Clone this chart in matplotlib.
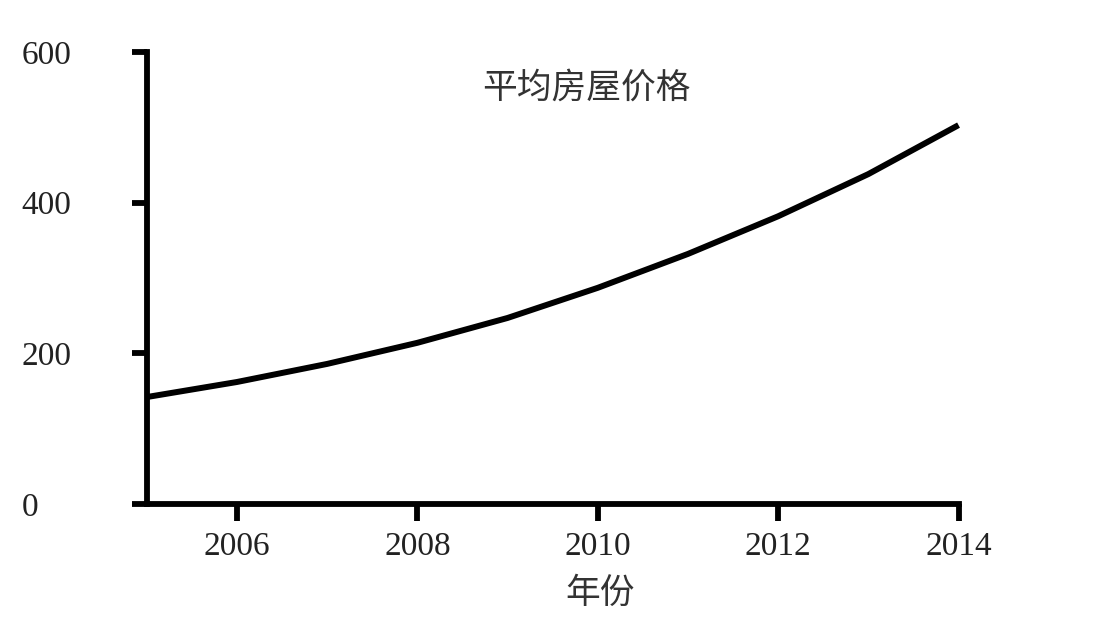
import numpy as np
import matplotlib
matplotlib.use("Agg")
from matplotlib import pyplot as plt

plt.rcParams['font.family'] = ['Liberation Serif', 'DejaVu Serif']

years = [2005, 2006, 2007, 2008, 2009, 2010, 2011, 2012, 2013, 2014]
prices = [142, 162, 186, 214, 247, 287, 332, 382, 438, 503]

x_ticks = [2006, 2008, 2010, 2012, 2014]
y_ticks = [0, 200, 400, 600]

title = "平均房屋价格"
x_label = "年份"

cjk = ['Noto Sans CJK SC', 'DejaVu Sans']

fig = plt.figure(figsize=(11, 6.34), dpi=100)
ax = fig.add_axes([0.1334, 0.2050, 0.7380, 0.7129])

ax.plot(years, prices, color="black", lw=4.3, solid_capstyle="butt",
        solid_joinstyle="round", clip_on=False, zorder=3)

ax.set_xlim(2005, 2014)
ax.set_ylim(0, 600)
ax.set_xticks(x_ticks)
ax.set_yticks(y_ticks)
ax.set_xticklabels([str(v) for v in x_ticks], fontsize=24, color="#222222")
ax.set_yticklabels([str(v) for v in y_ticks], fontsize=24, color="#222222",
                   ha="left")

for side in ["top", "right"]:
    ax.spines[side].set_visible(False)
for side in ["left", "bottom"]:
    ax.spines[side].set_linewidth(4.2)
    ax.spines[side].set_capstyle("projecting")

ax.tick_params(axis="x", direction="out", length=12, width=4.2, pad=8)
ax.tick_params(axis="y", direction="out", length=11, width=4.2, pad=79)

ax.text(2009.87, 552, title, fontsize=25, color="#333333", family=cjk,
        ha="center", va="center")
ax.set_xlabel(x_label, fontsize=25, color="#333333", family=cjk, va="center")
ax.xaxis.set_label_coords(0.558, -0.198)

fig.savefig("out.png", dpi=100, facecolor="white")
